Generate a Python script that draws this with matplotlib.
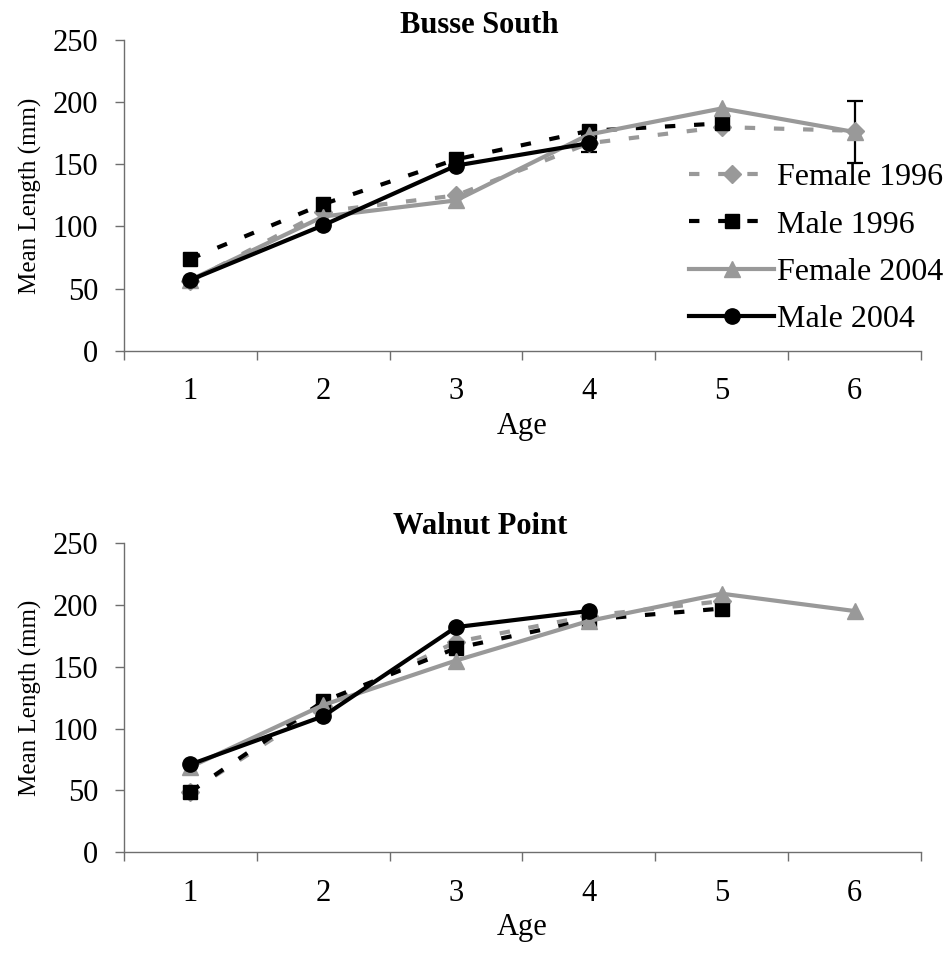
import numpy as np
import matplotlib
matplotlib.use("Agg")
import matplotlib.pyplot as plt
from matplotlib.ticker import FixedLocator, NullFormatter

plt.rcParams["font.family"] = ["Liberation Serif", "DejaVu Serif"]
plt.rcParams["lines.scale_dashes"] = False

# Age classes (years)
ages = [1, 2, 3, 4, 5, 6]
series_names = ["Female 1996", "Male 1996", "Female 2004", "Male 2004"]

# Busse South mean length (mm) by age; None = no fish of that age
busse_f1996 = [56, 112, 125, 167, 180, 177]
busse_m1996 = [74, 118, 154, 177, 183, None]
busse_f2004 = [57, 108, 121, 174, 195, 176]
busse_m2004 = [57, 101, 149, 167, None, None]
# Busse South error bars (mm); 0 = no bar shown
busse_err_f2004 = [0, 0, 0, 0, 0, 25]
busse_err_m2004 = [0, 0, 0, 7, 0, 0]

# Walnut Point mean length (mm) by age
walnut_f1996 = [49, 118, 170, 191, 203, None]
walnut_m1996 = [49, 122, 165, 188, 197, None]
walnut_f2004 = [69, 119, 155, 187, 209, 195]
walnut_m2004 = [71, 110, 182, 195, None, None]

yticks = [0, 50, 100, 150, 200, 250]

GRAY = "#999999"
AXIS = "#6e6e6e"
DASH = (0, (7.5, 13.5))
styles = [
    dict(color=GRAY, linestyle=DASH, marker="D", markersize=9),
    dict(color="black", linestyle=DASH, marker="s", markersize=10.5),
    dict(color=GRAY, linestyle="-", marker="^", markersize=11.5),
    dict(color="black", linestyle="-", marker="o", markersize=11),
]


def as_float(vals):
    return np.array([np.nan if v is None else v for v in vals], dtype=float)


def draw_panel(ax, values, errors):
    x = np.array(ages, dtype=float)
    # error bars sit underneath the series markers
    for idx, err in errors:
        err = np.array(err, dtype=float)
        sel = err > 0
        if sel.any():
            ax.errorbar(x[sel], as_float(values[idx])[sel], yerr=err[sel],
                        fmt="none", ecolor="black", elinewidth=1.6,
                        capsize=5.5, capthick=1.6, zorder=1)
    handles = []
    for vals, st, name in zip(values, styles, series_names):
        (ln,) = ax.plot(x, as_float(vals), linewidth=3.0,
                        markeredgecolor=st["color"], markerfacecolor=st["color"],
                        label=name, zorder=2, **st)
        handles.append(ln)

    ax.set_xlim(0.5, 6.5)
    ax.set_ylim(0, 250)
    ax.set_yticks(yticks)
    ax.set_xticks(ages)
    ax.xaxis.set_minor_locator(FixedLocator(np.arange(0.5, 6.6, 1.0)))
    ax.xaxis.set_minor_formatter(NullFormatter())
    ax.tick_params(axis="x", which="major", length=0, pad=19, labelsize=22)
    ax.tick_params(axis="x", which="minor", length=6.5, width=1.0,
                   color=AXIS, direction="out")
    ax.tick_params(axis="y", which="major", length=6.5, width=1.0,
                   color=AXIS, direction="out", pad=12, labelsize=22)
    for side in ("top", "right"):
        ax.spines[side].set_visible(False)
    for side in ("left", "bottom"):
        ax.spines[side].set_color(AXIS)
        ax.spines[side].set_linewidth(1.0)
    ax.set_xlabel("Age", fontsize=22, labelpad=4)
    ax.set_ylabel("Mean Length (mm)", fontsize=18, labelpad=8)
    return handles


fig = plt.figure(figsize=(9.5, 9.61), dpi=100)
ax1 = fig.add_axes([0.1305, 0.635, 0.839, 0.3233])
ax2 = fig.add_axes([0.1305, 0.1131, 0.839, 0.3219])

h = draw_panel(ax1, [busse_f1996, busse_m1996, busse_f2004, busse_m2004],
               [(2, busse_err_f2004), (3, busse_err_m2004)])
draw_panel(ax2, [walnut_f1996, walnut_m1996, walnut_f2004, walnut_m2004], [])

fig.text(0.505, 0.9657, "Busse South", ha="center", va="baseline",
         fontsize=22, fontweight="bold")
fig.text(0.505, 0.4443, "Walnut Point", ha="center", va="baseline",
         fontsize=22, fontweight="bold")

ax1.legend(h, series_names, loc="upper left", bbox_to_anchor=(0.7255, 0.8305),
           bbox_transform=fig.transFigure, frameon=False, fontsize=23,
           handlelength=2.65, handletextpad=0.1, labelspacing=0.56,
           borderpad=0, borderaxespad=0, numpoints=1)

fig.savefig("out.png", dpi=100)
